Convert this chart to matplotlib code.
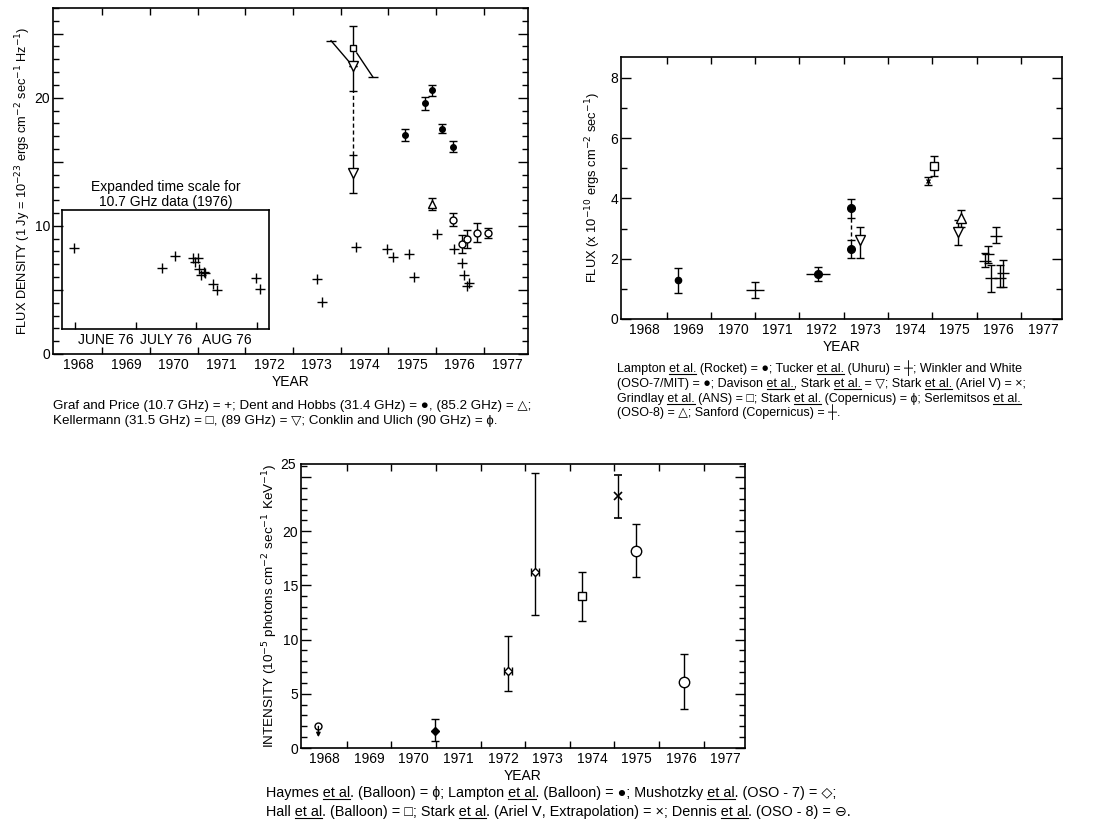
#flux history of a source in three bands (radio, x-ray, hard x-ray)
import numpy as np
import matplotlib
matplotlib.use('Agg')
import matplotlib.pyplot as plt
from matplotlib.lines import Line2D
from matplotlib.ticker import FixedLocator, NullFormatter, FixedFormatter, MultipleLocator

plt.rcParams['font.family'] = ['Liberation Sans', 'DejaVu Sans']

years = [str(y) for y in range(1968, 1978)]

# --- top left: radio flux density
graf_x = [1973.50, 1973.62, 1974.32, 1974.98, 1975.10, 1975.44, 1975.55, 1976.02, 1976.38, 1976.54, 1976.59, 1976.65, 1976.70]
graf_y = [5.88, 4.07, 8.34, 8.21, 7.56, 7.82, 6.01, 9.33, 8.21, 7.10, 6.14, 5.28, 5.54]
dent31_x = [1975.36, 1975.77, 1975.92, 1976.12, 1976.36]
dent31_y = [17.07, 19.56, 20.57, 17.59, 16.19]
dent31_err = [0.45, 0.5, 0.4, 0.35, 0.4]
dent85_x = [1975.92]
dent85_y = [11.71]
dent85_err = [0.5]
conk_x = [1976.36, 1976.55, 1976.65, 1976.86, 1977.09]
conk_y = [10.49, 8.60, 8.94, 9.46, 9.43]
conk_err = [0.5, 0.7, 0.7, 0.75, 0.4]
kel_x = 1974.27
kel31_y = 23.9
kel31_top = 25.57
kel89_y = [22.5, 14.1]
kel89_lo = [20.5, 12.56]
kel89_hi = [22.5, 15.55]
slope1_x = [1973.80, 1974.26]
slope1_y = [24.45, 22.45]
slope2_x = [1974.34, 1974.68]
slope2_y = [23.49, 21.60]

# inset, months since 1 June 1976
inset_m = [-0.02, 1.43, 1.64, 1.94, 2.03, 1.98, 2.04, 2.07, 2.12, 2.15, 2.28, 2.34, 2.98, 3.05]
inset_y = [8.26, 6.68, 7.61, 7.51, 7.51, 7.17, 6.60, 6.16, 6.40, 6.32, 5.44, 4.97, 5.93, 5.10]
months = ['JUNE 76', 'JULY 76', 'AUG 76']

# --- top right: x-ray flux
lampR_x = [1969.25]
lampR_y = [1.30]
lampR_err = [[0.44], [0.39]]
tuck_x = [1971.00]
tuck_y = [0.97]
tuck_err = [[0.27], [0.26]]
tuck_xerr = [0.20]
wink_x = [1972.43, 1973.16, 1973.16]
wink_y = [1.50, 3.68, 2.32]
wink_err = [[0.25, 0.33, 0.30], [0.22, 0.31, 0.31]]
wink_xerr = [[0.29], [0.25]]
dav_x = [1973.37, 1975.58]
dav_y = [2.61, 2.87]
dav_err = [[0.59, 0.42], [0.44, 0.41]]
ariel_x = [1974.91]
ariel_y = [4.59]
ariel_err = [0.13]
grind_x = [1975.04]
grind_y = [5.06]
grind_err = [[0.33], [0.35]]
serl_x = [1975.64]
serl_y = [3.34]
serl_err = [[0.30], [0.27]]
sanf_x = [1976.18, 1976.27, 1976.33, 1976.43, 1976.52, 1976.60]
sanf_y = [1.94, 2.14, 1.35, 2.75, 1.35, 1.51]
sanf_err = [[0.23, 0.29, 0.47, 0.24, 0.28, 0.44], [0.24, 0.29, 0.44, 0.31, 0.44, 0.45]]

# --- bottom: hard x-ray intensity
hay_x = [1968.36]
hay_y = [2.0]
hay_lim = [1.0]
lampB_x = [1970.97]
lampB_y = [1.6]
lampB_err = [[0.98], [1.08]]
mush_x = [1972.61, 1973.22]
mush_y = [7.14, 16.22]
mush_err = [[1.91, 3.91], [3.17, 9.16]]
mush_xerr = [0.09, 0.09]
hall_x = [1974.27]
hall_y = [14.06]
hall_err = [[2.31], [2.16]]
starkB_x = [1975.09]
starkB_y = [23.23]
starkB_err = [[2.0], [1.94]]
denn_x = [1975.48, 1976.57]
denn_y = [18.22, 6.09]
denn_err = [[2.44, 2.46], [2.40, 2.62]]

W, H = 1093, 823
fig = plt.figure(figsize=(W / 100, H / 100), dpi=100)


def box(l, t, r, b):
    return [l / W, 1 - b / H, (r - l) / W, (b - t) / H]


def style(ax, ymajor, ylabels, ymax):
    ax.set_xlim(1967.97, 1977.93)
    ax.set_ylim(0, ymax)
    ax.xaxis.set_major_locator(FixedLocator(range(1969, 1978)))
    ax.xaxis.set_major_formatter(NullFormatter())
    ax.xaxis.set_minor_locator(FixedLocator(np.arange(1968.5, 1978, 1)))
    ax.xaxis.set_minor_formatter(FixedFormatter(years))
    ax.tick_params(axis='x', which='minor', length=0, labelsize=10, pad=3)
    ax.tick_params(axis='x', which='major', direction='in', length=5, top=True, width=1)
    ax.yaxis.set_major_locator(FixedLocator(ymajor))
    ax.yaxis.set_major_formatter(FixedFormatter(ylabels))
    ax.yaxis.set_minor_locator(MultipleLocator(1))
    ax.tick_params(axis='y', which='major', direction='in', length=7, right=True, labelsize=10, pad=2, width=1)
    ax.tick_params(axis='y', which='minor', direction='in', length=4, right=True, width=1)
    for s in ax.spines.values():
        s.set_linewidth(1.2)
    ax.set_xlabel('YEAR', fontsize=10, labelpad=2)


eb = dict(color='black', lw=1, capsize=3, capthick=1, ls='none')

# ---------------- top left
ax1 = fig.add_axes(box(53, 8, 528, 354))
style(ax1, [0, 5, 10, 15, 20, 25], ['0', '', '10', '', '20', ''], 27.0)
ax1.set_ylabel('FLUX DENSITY (1 Jy = 10$^{-23}$ ergs cm$^{-2}$ sec$^{-1}$ Hz$^{-1}$)', fontsize=9.2, labelpad=1)

ax1.plot(graf_x, graf_y, '+', color='black', ms=7, mew=1)
ax1.errorbar(dent31_x, dent31_y, yerr=dent31_err, marker='o', ms=4, mfc='black', mec='black', **eb)
ax1.errorbar(dent85_x, dent85_y, yerr=dent85_err, marker='^', ms=5.5, mfc='white', mec='black', **eb)
ax1.errorbar(conk_x, conk_y, yerr=conk_err, marker='o', ms=5, mfc='white', mec='black', **eb)
ax1.plot(slope1_x, slope1_y, color='black', lw=1)
ax1.plot(slope2_x, slope2_y, color='black', lw=1)
ax1.plot(slope1_x[0], slope1_y[0], '_', color='black', ms=7, mew=1)
ax1.plot(slope2_x[1], slope2_y[1], '_', color='black', ms=7, mew=1)
ax1.plot([kel_x, kel_x], [kel89_hi[1], kel89_lo[0]], color='black', lw=1, ls=(0, (3, 2)))
ax1.errorbar([kel_x], [kel31_y], yerr=[[kel31_y - kel89_y[0]], [kel31_top - kel31_y]], marker='s', ms=5,
             mfc='white', mec='black', **eb)
ax1.errorbar([kel_x, kel_x], kel89_y, yerr=[[kel89_y[i] - kel89_lo[i] for i in range(2)],
                                          [kel89_hi[i] - kel89_y[i] for i in range(2)]],
             marker='v', ms=7.5, mfc='white', mec='black', **eb)

ins = ax1.inset_axes([1968.16, 1.94, 4.34, 9.30], transform=ax1.transData)
ins.set_facecolor('none')
ins.set_xlim(-0.22, 3.20)
ins.set_ylim(1.94, 11.24)
ins.plot(inset_m, inset_y, '+', color='black', ms=7, mew=1)
ins.xaxis.set_major_locator(FixedLocator([0, 1, 2, 3]))
ins.xaxis.set_major_formatter(NullFormatter())
ins.xaxis.set_minor_locator(FixedLocator([0.5, 1.5, 2.5]))
ins.xaxis.set_minor_formatter(FixedFormatter(months))
ins.tick_params(axis='x', which='major', direction='in', length=5, width=1)
ins.tick_params(axis='x', which='minor', length=0, labelsize=10, pad=3)
ins.set_yticks([])
for s in ins.spines.values():
    s.set_linewidth(1.2)
ins.set_title('Expanded time scale for\n10.7 GHz data (1976)', fontsize=10, pad=3, linespacing=1.1)

# ---------------- top right
ax2 = fig.add_axes(box(621, 57, 1062, 319))
style(ax2, [0, 2, 4, 6, 8], ['0', '2', '4', '6', '8'], 8.69)
ax2.set_ylabel('FLUX (x 10$^{-10}$ ergs cm$^{-2}$ sec$^{-1}$)', fontsize=9.3, labelpad=5)

ax2.errorbar(lampR_x, lampR_y, yerr=lampR_err, marker='o', ms=4.5, mfc='black', mec='black', **eb)
ax2.errorbar(tuck_x, tuck_y, yerr=tuck_err, marker='none', **eb)
ax2.errorbar(tuck_x, tuck_y, xerr=tuck_xerr, marker='none', color='black', lw=1, ls='none')
ax2.plot([wink_x[1], wink_x[1]], [wink_y[1] - wink_err[0][1], wink_y[2] + wink_err[1][2]],
         color='black', lw=1, ls=(0, (3, 2)))
ax2.errorbar(wink_x, wink_y, yerr=wink_err, marker='o', ms=5.5, mfc='black', mec='black', **eb)
ax2.errorbar(wink_x[:1], wink_y[:1], xerr=wink_xerr, color='black', lw=1, ls='none')
ax2.errorbar(dav_x, dav_y, yerr=dav_err, marker='v', ms=7, mfc='white', mec='black', **eb)
ax2.errorbar(ariel_x, ariel_y, yerr=ariel_err, marker='x', ms=3.5, mec='black', **eb)
ax2.errorbar(grind_x, grind_y, yerr=grind_err, marker='s', ms=5.5, mfc='white', mec='black', **eb)
ax2.errorbar(serl_x, serl_y, yerr=serl_err, marker='^', ms=7, mfc='white', mec='black', **eb)
ax2.errorbar(sanf_x, sanf_y, yerr=sanf_err, marker='_', ms=8, mew=1, mec='black', **eb)

# ---------------- bottom
ax3 = fig.add_axes(box(301, 464, 745, 748))
style(ax3, [0, 5, 10, 15, 20, 25], ['0', '5', '10', '15', '20', ''], 26.2)
ax3.set_ylabel('INTENSITY (10$^{-5}$ photons cm$^{-2}$ sec$^{-1}$ KeV$^{-1}$)', fontsize=9.7, labelpad=2)
ax3.text(-0.012, 26.1, '25', transform=ax3.get_yaxis_transform(), ha='right', va='center', fontsize=10)

ax3.annotate('', xy=(hay_x[0], hay_lim[0]), xytext=(hay_x[0], hay_y[0]),
             arrowprops=dict(arrowstyle='-|>', color='black', lw=1, mutation_scale=6, shrinkA=0, shrinkB=0))
ax3.plot(hay_x, hay_y, 'o', ms=5, mfc='white', mec='black', mew=1)
ax3.errorbar(lampB_x, lampB_y, yerr=lampB_err, marker='D', ms=4.5, mfc='black', mec='black', **eb)
ax3.errorbar(mush_x, mush_y, yerr=mush_err, xerr=mush_xerr, marker='D', ms=4.5, mfc='white', mec='black', **eb)
ax3.errorbar(hall_x, hall_y, yerr=hall_err, marker='s', ms=5.5, mfc='white', mec='black', **eb)
ax3.errorbar(starkB_x, starkB_y, yerr=starkB_err, marker='x', ms=6, mew=1.2, mec='black', **eb)
ax3.errorbar(denn_x, denn_y, yerr=denn_err, marker='o', ms=7.5, mfc='white', mec='black', mew=1, **eb)
ax3.plot(denn_x, denn_y, '_', color='black', ms=7.5, mew=1)

# ---------------- captions, text between '_' is underlined
renderer = fig.canvas.get_renderer()


def text_w(s, size):
    t = fig.text(0, 0, s, fontsize=size)
    w = t.get_window_extent(renderer).width
    t.remove()
    return w


def caption(x, y, line, size):
    parts = line.split('_')
    fig.text(x / W, 1 - y / H, ''.join(parts), fontsize=size, ha='left', va='baseline')
    prefix = ''
    for i, p in enumerate(parts):
        if i % 2 == 1:
            x1 = x + text_w(prefix + p, size)
            x0 = x1 - text_w(p, size)
            yy = 1 - (y + 2) / H
            fig.add_artist(Line2D([x0 / W, x1 / W], [yy, yy], color='black', lw=0.8))
        prefix += p


caption(53, 409, 'Graf and Price (10.7 GHz) = +; Dent and Hobbs (31.4 GHz) = \u25cf, (85.2 GHz) = \u25b3;', 9.6)
caption(53, 424, 'Kellermann (31.5 GHz) = \u25a1, (89 GHz) = \u25bd; Conklin and Ulich (90 GHz) = \u0278.', 9.6)

caption(617, 372, 'Lampton _et al._ (Rocket) = \u25cf; Tucker _et al._ (Uhuru) = \u253c; Winkler and White', 9)
caption(617, 387, '(OSO-7/MIT) = \u25cf; Davison _et al._, Stark _et al._ = \u25bd; Stark _et al._ (Ariel V) = \u00d7;', 9)
caption(617, 402, 'Grindlay _et al._ (ANS) = \u25a1; Stark _et al._ (Copernicus) = \u0278; Serlemitsos _et al._', 9)
caption(617, 416, '(OSO-8) = \u25b3; Sanford (Copernicus) = \u253c.', 9)

caption(266, 797, 'Haymes _et al_. (Balloon) = \u0278; Lampton _et al_. (Balloon) = \u25cf; Mushotzky _et al_. (OSO - 7) = \u25c7;', 10.4)
caption(266, 816, 'Hall _et al_. (Balloon) = \u25a1; Stark _et al_. (Ariel \u2164, Extrapolation) = \u00d7; Dennis _et al_. (OSO - 8) = \u2296.', 10.4)

fig.savefig('out.png', dpi=100)
